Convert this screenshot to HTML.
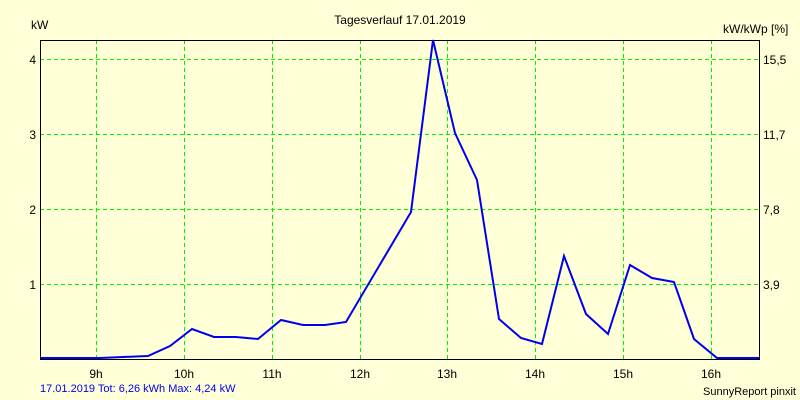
<!DOCTYPE html><html><head><style>body{margin:0;background:#ffffd8;}svg{display:block}text{font-family:"Liberation Sans",sans-serif;font-size:12px;fill:#000}</style></head><body>
<svg width="800" height="400" viewBox="0 0 800 400">
<rect width="800" height="400" fill="#ffffd8"/>
<g stroke="#00ee00" stroke-width="1" stroke-dasharray="4,3">
<line x1="96.5" y1="40" x2="96.5" y2="359"/><line x1="184.5" y1="40" x2="184.5" y2="359"/><line x1="272.5" y1="40" x2="272.5" y2="359"/><line x1="360.5" y1="40" x2="360.5" y2="359"/><line x1="447.5" y1="40" x2="447.5" y2="359"/><line x1="535.5" y1="40" x2="535.5" y2="359"/><line x1="623.5" y1="40" x2="623.5" y2="359"/><line x1="711.5" y1="40" x2="711.5" y2="359"/>
<line x1="40" y1="59.5" x2="759" y2="59.5"/><line x1="40" y1="134.5" x2="759" y2="134.5"/><line x1="40" y1="209.5" x2="759" y2="209.5"/><line x1="40" y1="284.5" x2="759" y2="284.5"/>
</g>
<rect x="40.5" y="40.5" width="719" height="319" fill="none" stroke="#000" stroke-width="1"/>
<polyline fill="none" stroke="#0000ee" stroke-width="2" points="41,358 100,358 123,357 148,356 170,346 192,329 214,337 236,337 258,339 281,320 303,325 325,325 346,322 411,212 433,40 455,133 477,180 499,319 521,338 542,344 564,256 586,314 608,334 630,265 652,278 674,282 694,339 717,358 759,358"/>
<text x="400" y="24" text-anchor="middle">Tagesverlauf 17.01.2019</text>
<text x="31" y="29">kW</text>
<text x="723" y="33">kW/kWp [%]</text>
<text x="36" y="64" text-anchor="end">4</text><text x="36" y="139" text-anchor="end">3</text><text x="36" y="214" text-anchor="end">2</text><text x="36" y="289" text-anchor="end">1</text>
<text x="763" y="64">15,5</text><text x="763" y="139">11,7</text><text x="763" y="214">7,8</text><text x="763" y="289">3,9</text>
<g text-anchor="middle"><text x="96" y="378">9h</text><text x="184" y="378">10h</text><text x="272" y="378">11h</text><text x="360" y="378">12h</text><text x="447" y="378">13h</text><text x="535" y="378">14h</text><text x="623" y="378">15h</text><text x="711" y="378">16h</text></g>
<text x="40" y="392" style="font-size:11px;fill:#0000ee">17.01.2019 Tot: 6,26 kWh Max: 4,24 kW</text>
<text x="796" y="395" text-anchor="end" style="font-size:11px">SunnyReport pinxit</text>
</svg></body></html>
